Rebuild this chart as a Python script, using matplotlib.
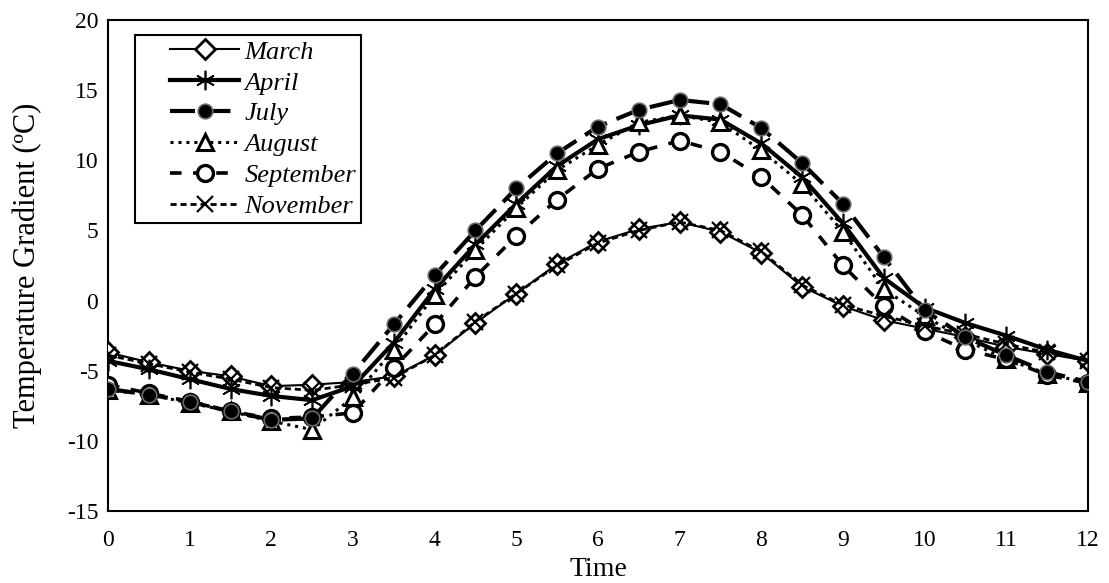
import matplotlib
matplotlib.use("Agg")
import matplotlib.pyplot as plt
import numpy as np
from matplotlib.lines import Line2D
from matplotlib.legend_handler import HandlerLine2D

time = [0, 0.5, 1, 1.5, 2, 2.5, 3, 3.5, 4, 4.5, 5, 5.5, 6, 6.5, 7, 7.5, 8, 8.5, 9, 9.5, 10, 10.5, 11, 11.5, 12]

march = [-3.7, -4.4, -5.0, -5.4, -6.1, -6.0, -5.8, -5.4, -3.9, -1.6, 0.5, 2.6, 4.2, 5.1, 5.6, 4.9, 3.4, 1.0, -0.4, -1.4, -2.0, -2.6, -3.3, -3.8, -4.3]
april = [-4.3, -4.9, -5.6, -6.3, -6.8, -7.1, -6.1, -3.0, 0.8, 4.0, 6.9, 9.6, 11.5, 12.5, 13.2, 12.9, 11.2, 8.8, 5.5, 1.6, -0.5, -1.6, -2.5, -3.5, -4.3]
july = [-6.3, -6.7, -7.2, -7.9, -8.5, -8.4, -5.2, -1.7, 1.8, 5.0, 8.0, 10.5, 12.4, 13.6, 14.3, 14.0, 12.3, 9.8, 6.9, 3.1, -0.7, -2.6, -3.9, -5.1, -5.8]
august = [-6.4, -6.7, -7.3, -7.9, -8.6, -9.2, -6.9, -3.5, 0.4, 3.6, 6.6, 9.3, 11.1, 12.7, 13.2, 12.7, 10.7, 8.3, 4.9, 0.8, -1.1, -2.8, -4.2, -5.2, -5.9]
september = [-6.0, -6.6, -7.2, -7.9, -8.4, -8.3, -8.0, -4.8, -1.7, 1.7, 4.6, 7.2, 9.4, 10.6, 11.4, 10.6, 8.8, 6.1, 2.5, -0.4, -2.2, -3.5, -4.2, -5.3, -5.9]
november = [-3.9, -4.5, -5.1, -5.6, -6.2, -6.4, -6.0, -5.5, -3.9, -1.5, 0.5, 2.5, 4.1, 5.0, 5.6, 5.0, 3.5, 1.1, -0.3, -1.1, -1.8, -2.4, -3.1, -3.7, -4.3]

labels = ["March", "April", "July", "August", "September", "November"]
xticks = list(range(0, 13))
yticks = [-15, -10, -5, 0, 5, 10, 15, 20]


class ShiftHandler(HandlerLine2D):
    """Legend line that starts a little to the right (Excel-like gap)."""
    def __init__(self, shift_frac, **kw):
        super().__init__(**kw)
        self.shift_frac = shift_frac

    def get_xdata(self, legend, xdescent, ydescent, width, height, fontsize):
        x0 = -xdescent + width * self.shift_frac
        x1 = -xdescent + width
        return np.array([x0, x1]), np.array([(x0 + x1) / 2.0])


plt.rcParams['font.family'] = ['Liberation Serif', 'DejaVu Serif']

fig = plt.figure(figsize=(11.09, 5.83), dpi=100)
ax = fig.add_axes([0.0974, 0.1235, 0.8836, 0.8422])

ax.plot(time, march, color='black', lw=1.5, ls='-', marker='D', ms=10,
        mfc='white', mec='black', mew=2.0, label=labels[0], zorder=3)
ax.plot(time, april, color='black', lw=3.0, ls='-', marker=(6, 2, 0), ms=14,
        mfc='black', mec='black', mew=1.2, label=labels[1], zorder=3)
ax.plot(time, july, color='black', lw=3.0, dashes=(6, 2.5), marker='o', ms=10.5,
        mfc='black', mec='#6a6a6a', mew=1.2, label=labels[2], zorder=4)
ax.plot(time, august, color='black', lw=2.2, dashes=(1, 1.6), marker='^', ms=11,
        mfc='white', mec='black', mew=2.2, label=labels[3], zorder=3)
ax.plot(time, september, color='black', lw=2.6, dashes=(3.2, 3.2), marker='o', ms=11.5,
        mfc='white', mec='black', mew=2.4, label=labels[4], zorder=3)
ax.plot(time, november, color='black', lw=2.0, dashes=(2.2, 1.4), marker='x', ms=11,
        mfc='none', mec='black', mew=1.6, label=labels[5], zorder=3)

ax.set_xlim(0, 12)
ax.set_ylim(-15, 20)
ax.set_xticks(xticks)
ax.set_xticklabels([str(t) for t in xticks])
ax.set_yticks(yticks)
ax.set_yticklabels([str(t) for t in yticks])
ax.tick_params(length=0, labelsize=17)
ax.tick_params(axis='y', pad=7)
ax.tick_params(axis='x', pad=14)
for s in ax.spines.values():
    s.set_linewidth(1.5)
    s.set_color('black')

ax.set_xlabel("Time", fontsize=20, labelpad=4)
ax.set_ylabel("Temperature Gradient (ºC)", fontsize=22, labelpad=18)

leg = ax.legend(loc='upper left', bbox_to_anchor=(0.0276, 0.9695), frameon=True,
                fancybox=False, edgecolor='black', framealpha=1,
                prop={'family': 'Liberation Serif', 'style': 'italic', 'size': 19},
                handlelength=3.75, handletextpad=0.2, labelspacing=0.28,
                borderpad=0.2, borderaxespad=0,
                handler_map={Line2D: ShiftHandler(0.3)})
leg.get_frame().set_linewidth(1.5)

fig.savefig("out.png", dpi=100)
